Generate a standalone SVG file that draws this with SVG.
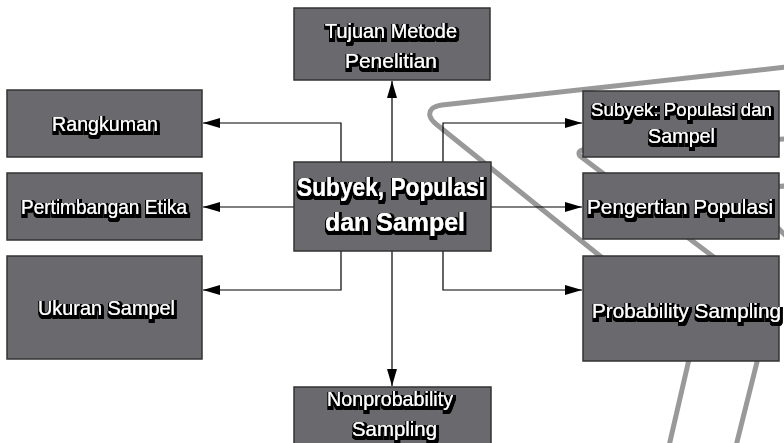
<svg xmlns="http://www.w3.org/2000/svg" width="784" height="443" viewBox="0 0 784 443">
<defs>
<style>
.box{fill:#6a6a6e;stroke:#333;stroke-width:1.5}
.t{fill:#fff;font-family:"Liberation Sans",Arial,sans-serif;font-size:21px;filter:url(#sh)}
.tb{fill:#fff;font-family:"Liberation Sans",Arial,sans-serif;font-size:25px;font-weight:bold;filter:url(#sh)}
.c{fill:none;stroke:#000;stroke-width:1.2;marker-end:url(#ar)}
.g{fill:none;stroke:#999;stroke-width:5;stroke-linejoin:round;stroke-linecap:round}
</style>
<marker id="ar" markerUnits="userSpaceOnUse" markerWidth="17" markerHeight="10" refX="17" refY="5" orient="auto">
<path d="M0,0 L17,5 L0,10 z" fill="#000"/>
</marker>
<filter id="sh" x="-4%" y="-40%" width="108%" height="180%">
<feMorphology in="SourceAlpha" operator="dilate" radius="1.7" result="d"/>
<feOffset in="d" dx="1" dy="1.5" result="o"/>
<feGaussianBlur in="o" stdDeviation="0.7" result="b"/>
<feFlood flood-color="#000"/>
<feComposite in2="b" operator="in" result="s"/>
<feMerge><feMergeNode in="s"/><feMergeNode in="s"/><feMergeNode in="SourceGraphic"/></feMerge>
</filter>
</defs>
<rect width="784" height="443" fill="#fff"/>
<g id="decor">
<path class="g" d="M786 67 L442 105 Q428 107 430 116 Q431 120 436 124 L600 256 L640 290 L758 358 L736 446"/>
<path class="g" d="M786 139 L588 149 Q576 150 580 156 L715 258 L690 355 L669 446"/>
<path class="g" stroke-linecap="butt" d="M770 187 L786 186"/>
<path class="g" stroke-linecap="butt" d="M760 210 L790 240"/>
</g>
<g id="connectors">
<path class="c" d="M392 162 V81"/>
<path class="c" d="M392 251 V386"/>
<path class="c" d="M341 162 V123 H203"/>
<path class="c" d="M294 207 H203"/>
<path class="c" d="M341 251 V290 H203"/>
<path class="c" d="M443 162 V123 H582"/>
<path class="c" d="M491 207 H582"/>
<path class="c" d="M443 251 V290 H582"/>
</g>
<g id="tujuan">
<rect class="box" x="294" y="8" width="196" height="72"/>
<text class="t" x="325" y="38" textLength="132" lengthAdjust="spacingAndGlyphs">Tujuan Metode</text>
<text class="t" x="345" y="68" textLength="92" lengthAdjust="spacingAndGlyphs">Penelitian</text>
</g>
<g id="rangkuman">
<rect class="box" x="7" y="90" width="195" height="67"/>
<text class="t" x="52" y="131" textLength="106" lengthAdjust="spacingAndGlyphs">Rangkuman</text>
</g>
<g id="etika">
<rect class="box" x="7" y="173" width="195" height="67"/>
<text class="t" x="21" y="214" textLength="166" lengthAdjust="spacingAndGlyphs">Pertimbangan Etika</text>
</g>
<g id="ukuran">
<rect class="box" x="7" y="256" width="195" height="103"/>
<text class="t" x="38" y="315" textLength="137" lengthAdjust="spacingAndGlyphs">Ukuran Sampel</text>
</g>
<g id="center">
<rect class="box" x="294" y="162" width="197" height="89"/>
<text class="tb" x="297" y="196" textLength="188" lengthAdjust="spacingAndGlyphs">Subyek, Populasi</text>
<text class="tb" x="325" y="231" textLength="140" lengthAdjust="spacingAndGlyphs">dan Sampel</text>
</g>
<g id="subyek">
<rect class="box" x="583" y="91" width="196" height="66"/>
<text class="t" x="591" y="116" font-size="19" style="font-size:19px" textLength="181" lengthAdjust="spacingAndGlyphs">Subyek: Populasi dan</text>
<text class="t" x="648" y="143" textLength="67" lengthAdjust="spacingAndGlyphs">Sampel</text>
</g>
<g id="pengertian">
<rect class="box" x="583" y="173" width="196" height="66"/>
<text class="t" x="587" y="214" textLength="186" lengthAdjust="spacingAndGlyphs">Pengertian Populasi</text>
</g>
<g id="probability">
<rect class="box" x="583" y="256" width="196" height="105"/>
<text class="t" x="592" y="318" textLength="189" lengthAdjust="spacingAndGlyphs">Probability Sampling</text>
</g>
<g id="nonprobability">
<rect class="box" x="294" y="387" width="197" height="70"/>
<text class="t" x="327" y="406" textLength="126" lengthAdjust="spacingAndGlyphs">Nonprobability</text>
<text class="t" x="352" y="436" textLength="85" lengthAdjust="spacingAndGlyphs">Sampling</text>
</g>
</svg>
